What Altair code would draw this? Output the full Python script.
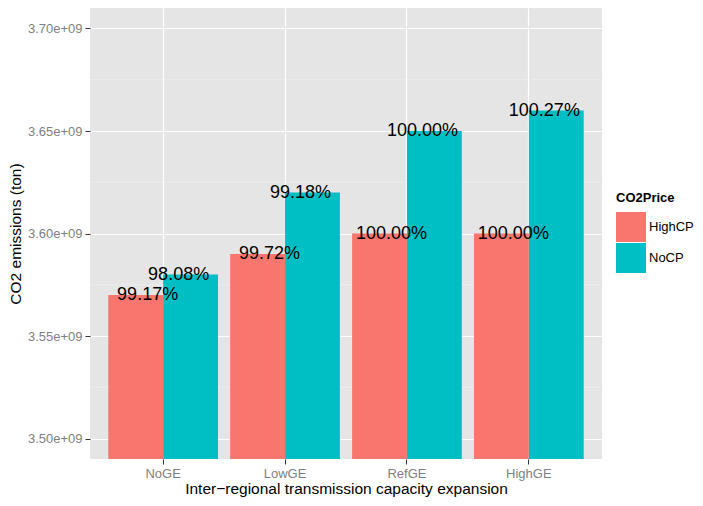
import altair as alt
import pandas as pd

ge = ["NoGE", "LowGE", "RefGE", "HighGE"]
prices = ["HighCP", "NoCP"]
high_cp = [3.57e9, 3.59e9, 3.60e9, 3.60e9]
no_cp = [3.58e9, 3.62e9, 3.65e9, 3.66e9]
high_lbl = ["99.17%", "99.72%", "100.00%", "100.00%"]
no_lbl = ["98.08%", "99.18%", "100.00%", "100.27%"]
y_ticks = [3.50e9, 3.55e9, 3.60e9, 3.65e9, 3.70e9]
y_minor = [3.525e9, 3.575e9, 3.625e9, 3.675e9]
y_domain = [3.49e9, 3.71e9]

rows = []
for g, h, n, hl, nl in zip(ge, high_cp, no_cp, high_lbl, no_lbl):
    rows.append({"GE": g, "CO2Price": "HighCP", "value": h, "label": hl})
    rows.append({"GE": g, "CO2Price": "NoCP", "value": n, "label": nl})
df = pd.DataFrame(rows)
minor_df = pd.DataFrame({"v": y_minor})

FONT = "Liberation Sans"

x_enc = alt.X(
    "GE:N", sort=ge,
    scale=alt.Scale(paddingInner=0.1, paddingOuter=0.15),
    axis=alt.Axis(
        title="Inter\u2212regional transmission capacity expansion",
        labelAngle=0, bandPosition=0.5, grid=True, gridColor="white", gridWidth=1.2,
        domain=False, tickColor="#333333", tickSize=5, labelPadding=3,
        labelColor="#7F7F7F", labelFontSize=13, titleFontSize=15.5,
        titleFontWeight="normal", titleColor="black", titlePadding=1,
    ),
)
y_enc = alt.Y(
    "value:Q",
    scale=alt.Scale(domain=y_domain, zero=False, nice=False),
    axis=alt.Axis(
        title="CO2 emissions (ton)", values=y_ticks,
        labelExpr="replace(format(datum.value, '.2e'), 'e+', 'e+0')",
        grid=True, gridColor="white", gridWidth=1.2, domain=False,
        tickColor="#333333", tickSize=5, labelPadding=3,
        labelColor="#7F7F7F", labelFontSize=13, titleFontSize=15.5,
        titleFontWeight="normal", titleColor="black", titlePadding=4,
    ),
)

minor = alt.Chart(minor_df).mark_rule(color="#F2F2F2", strokeWidth=0.6).encode(
    y=alt.Y("v:Q", scale=alt.Scale(domain=y_domain, zero=False, nice=False))
)

bars = alt.Chart(df).mark_bar(clip=True).encode(
    x=x_enc,
    xOffset=alt.XOffset("CO2Price:N", sort=prices,
                        scale=alt.Scale(paddingInner=0, paddingOuter=0)),
    y=y_enc,
    color=alt.Color(
        "CO2Price:N",
        scale=alt.Scale(domain=prices, range=["#F8766D", "#00BFC4"]),
        legend=alt.Legend(
            title="CO2Price", orient="none", legendX=526, legendY=184,
            symbolType="square", symbolSize=900, symbolStrokeWidth=0,
            labelFontSize=13, titleFontSize=13, titleFontWeight="bold",
            titleColor="black", labelColor="black", titlePadding=7,
            rowPadding=1, labelOffset=3,
        ),
    ),
)

def text_layer(price, dx):
    return alt.Chart(df).transform_filter(
        alt.datum.CO2Price == price
    ).mark_text(fontSize=18, dx=dx, baseline="middle", color="black", font=FONT).encode(
        x=alt.X("GE:N", sort=ge),
        y=alt.Y("value:Q"),
        text="label:N",
    )

chart = alt.layer(
    minor, bars, text_layer("HighCP", -15.5), text_layer("NoCP", 15.5)
).properties(
    width=512, height=451,
    autosize=alt.AutoSizeParams(type="none"),
    padding={"left": 82, "top": 0, "right": 93, "bottom": 39},
).configure(font=FONT).configure_view(fill="#E5E5E5", strokeWidth=0)

chart.save("out.html", embed_options={"renderer": "svg", "actions": False})
